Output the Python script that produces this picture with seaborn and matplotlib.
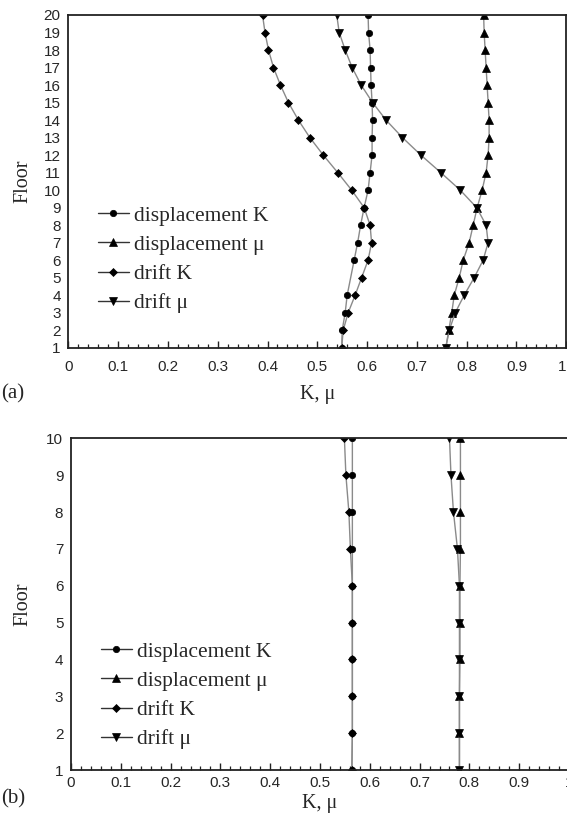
import matplotlib
matplotlib.use("Agg")
import matplotlib.pyplot as plt
import numpy as np
import pandas as pd
import seaborn as sns

# ---------------- data (a) ----------------
floors_a = list(range(20, 0, -1))
disp_K_a_floors = [20, 19, 18, 17, 16, 15, 14, 13, 12, 11, 10, 9, 8, 7, 6, 4, 3, 2, 1]
disp_K_a = [0.602, 0.603, 0.606, 0.607, 0.608, 0.610, 0.611, 0.610, 0.610, 0.606,
            0.602, 0.594, 0.587, 0.581, 0.574, 0.560, 0.556, 0.550, 0.549]
disp_mu_a = [0.834, 0.835, 0.837, 0.839, 0.841, 0.843, 0.845, 0.845, 0.843, 0.839,
             0.831, 0.821, 0.813, 0.805, 0.793, 0.785, 0.775, 0.770, 0.764, 0.758]
drift_K_a = [0.390, 0.395, 0.402, 0.412, 0.426, 0.442, 0.462, 0.485, 0.512, 0.541,
             0.569, 0.594, 0.606, 0.609, 0.602, 0.589, 0.576, 0.562, 0.552, 0.549]
drift_mu_a = [0.539, 0.544, 0.556, 0.570, 0.588, 0.611, 0.638, 0.671, 0.708, 0.748,
              0.787, 0.820, 0.839, 0.843, 0.833, 0.815, 0.795, 0.777, 0.765, 0.758]

# ---------------- data (b) ----------------
floors_b = list(range(10, 0, -1))
disp_K_b = [0.565, 0.565, 0.565, 0.565, 0.565, 0.565, 0.565, 0.565, 0.565, 0.564]
disp_mu_b = [0.782, 0.782, 0.782, 0.782, 0.781, 0.781, 0.781, 0.780, 0.780, 0.780]
drift_K_b = [0.549, 0.552, 0.558, 0.561, 0.565, 0.565, 0.565, 0.565, 0.565, 0.564]
drift_mu_b = [0.760, 0.763, 0.768, 0.776, 0.780, 0.780, 0.780, 0.780, 0.780, 0.780]

labels = ["displacement K", "displacement μ", "drift K", "drift μ"]
x_ticks = [0, 0.1, 0.2, 0.3, 0.4, 0.5, 0.6, 0.7, 0.8, 0.9, 1]
x_tick_labels = ["0", "0.1", "0.2", "0.3", "0.4", "0.5", "0.6", "0.7", "0.8", "0.9", "1"]

sns.set_theme(style="white")
plt.rcParams["font.family"] = ["Liberation Sans", "DejaVu Sans"]
SERIF = ["Liberation Serif", "DejaVu Serif"]

W, H = 567, 827
fig = plt.figure(figsize=(W / 100, H / 100), dpi=100)


def px_axes(left, top, right, bottom):
    return fig.add_axes([left / W, 1 - bottom / H, (right - left) / W, (bottom - top) / H])


styles = [
    dict(marker="o", markersize=4.6),
    dict(marker="^", markersize=5.2),
    dict(marker="D", markersize=3.6),
    dict(marker="v", markersize=5.2),
]


def draw(ax, series, ymax, yticks):
    for (xs, ys), lab, st in zip(series, labels, styles):
        df = pd.DataFrame({"val": xs, "floor": ys})
        sns.lineplot(data=df, x="val", y="floor", sort=False, estimator=None,
                     orient="y", ax=ax, color="#8a8a8a", linewidth=1.0,
                     markerfacecolor="black", markeredgecolor="black",
                     markeredgewidth=0.5, label=lab, **st)
    ax.set_xlim(0, 1)
    ax.set_ylim(1, ymax)
    ax.set_xticks(x_ticks)
    ax.set_xticklabels(x_tick_labels)
    ax.set_xticks(np.round(np.arange(0, 1.0001, 0.02), 2), minor=True)
    ax.set_yticks(yticks)
    ax.set_yticklabels([str(v) for v in yticks])
    for s in ax.spines.values():
        s.set_color("#222222")
        s.set_linewidth(1.3)
    ax.tick_params(axis="x", which="major", direction="in", length=5, width=1.0,
                   color="#222222", labelsize=11, bottom=True)
    ax.tick_params(axis="x", which="minor", direction="in", length=3, width=0.9,
                   color="#222222", bottom=True)
    ax.tick_params(axis="y", length=0, labelsize=11, pad=5.5)
    ax.grid(False)


def add_legend(ax, x_px, y_px):
    leg = ax.legend(loc="upper left", bbox_to_anchor=(x_px / W, 1 - y_px / H),
                    bbox_transform=fig.transFigure, frameon=False, borderpad=0,
                    handlelength=1.45, handletextpad=0.25, labelspacing=0.42,
                    prop={"family": SERIF, "size": 15.5})
    for ln in leg.get_lines():
        ln.set_color("#333333")
        ln.set_markerfacecolor("black")


# ---------- panel (a) ----------
ax1 = px_axes(68.3, 15, 566.3, 347.7)
draw(ax1, [(disp_K_a, disp_K_a_floors), (disp_mu_a, floors_a),
           (drift_K_a, floors_a), (drift_mu_a, floors_a)], 20, list(range(1, 21)))
ax1.tick_params(axis="x", which="major", pad=8.5)
ax1.get_xticklabels()[-1].set_horizontalalignment("right")
ax1.set_xlabel("K, μ", family=SERIF, fontsize=14.5, labelpad=8)
ax1.set_ylabel("Floor", family=SERIF, fontsize=14.5, labelpad=8)
add_legend(ax1, 87, 195)

# ---------- panel (b) ----------
ax2 = px_axes(71, 438.3, 569, 770)
draw(ax2, [(disp_K_b, floors_b), (disp_mu_b, floors_b),
           (drift_K_b, floors_b), (drift_mu_b, floors_b)], 10, list(range(1, 11)))
ax2.spines["right"].set_visible(False)
ax2.tick_params(axis="x", which="major", pad=4.5)
ax2.set_xlabel("K, μ", family=SERIF, fontsize=14.5, labelpad=3)
ax2.set_ylabel("Floor", family=SERIF, fontsize=14.5, labelpad=10)
add_legend(ax2, 90, 631)

fig.text(1 / W, 1 - 394 / H, "(a)", family=SERIF, fontsize=15, va="center", ha="left")
fig.text(1 / W, 1 - 799 / H, "(b)", family=SERIF, fontsize=15, va="center", ha="left")

fig.savefig("out.png", dpi=100)
